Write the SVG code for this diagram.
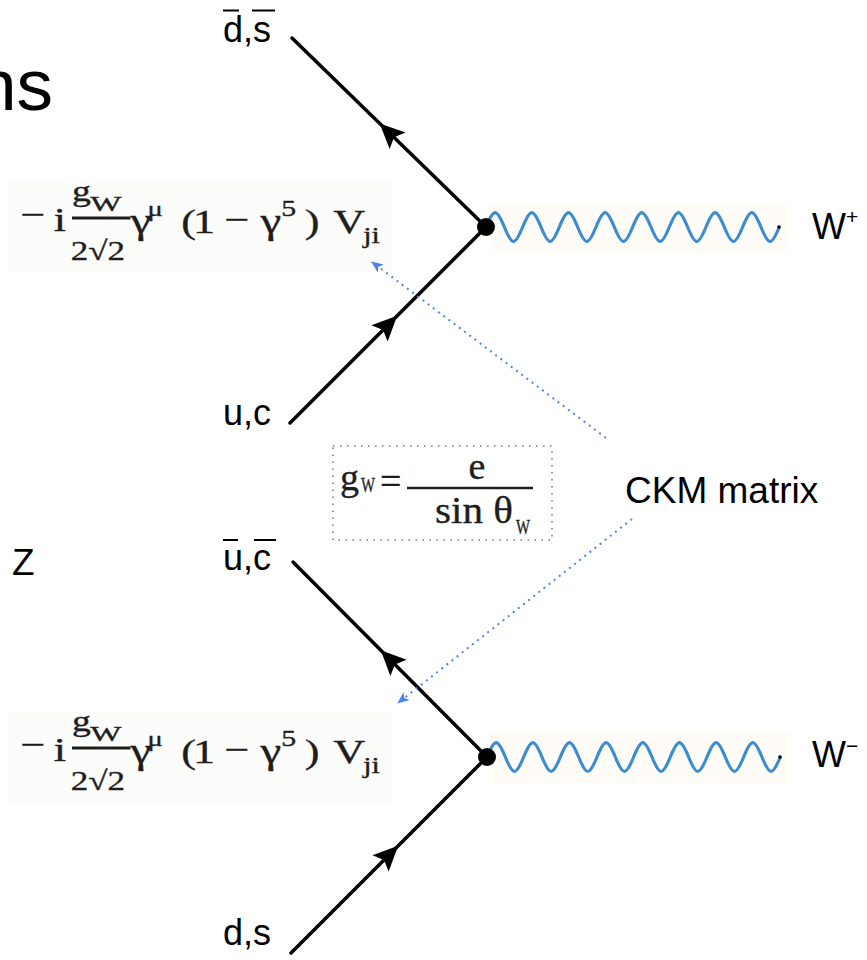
<svg xmlns="http://www.w3.org/2000/svg" width="867" height="960" viewBox="0 0 867 960">
  <style>
    .lbl { font-family: "Liberation Sans", Arial, sans-serif; fill: #000; }
    .math { font-family: "Liberation Serif", "Times New Roman", serif; fill: #1e1e1e; stroke: #1e1e1e; stroke-width: 0.35; }
    .fermion { stroke: #000; stroke-width: 3.5; fill: none; stroke-linecap: round; }
    .boson { stroke: #3b8cd0; stroke-width: 3.2; fill: none; }
    .ckm { stroke: #4a86e8; stroke-width: 2; fill: none; stroke-dasharray: 2 4.5; }
    .bar { stroke: #1e1e1e; }
    .ovl { stroke: #000; stroke-width: 2; }
  </style>
  <defs>
    <path id="farrow" d="M13,0 L-12,-11.5 L-7,0 L-12,11.5 Z" fill="#000"/>
    <marker id="ckmhead" markerUnits="userSpaceOnUse" viewBox="0 0 12 10" refX="11" refY="5" markerWidth="12" markerHeight="10" orient="auto">
      <path d="M0,0 L12,5 L0,10 L3,5 Z" fill="#4a86e8"/>
    </marker>
  </defs>
  <rect width="867" height="960" fill="#fff"/>

  <!-- faint image backgrounds -->
  <rect x="8" y="182" width="384" height="90" fill="#fcfcfb"/>
  <rect x="8" y="712" width="384" height="90" fill="#fcfcfb"/>
  <rect x="490" y="203" width="300" height="50" fill="#fffcf7"/>
  <rect x="490" y="733" width="300" height="50" fill="#fffcf7"/>

  <!-- title fragment -->
  <text class="lbl" x="-24" y="110" font-size="73">ns</text>
  <text class="lbl" x="12" y="575" font-size="37">Z</text>

  <!-- connectors -->
  <g id="connectors">
    <line class="fermion" x1="486" y1="227" x2="292" y2="38"/>
    <line class="fermion" x1="290" y1="423" x2="486" y2="227"/>
    <path class="boson" d="M486,227 c7.8,-19.3 10.5,-19.3 18.33,0 c7.8,19.3 10.5,19.3 18.33,0 c7.8,-19.3 10.5,-19.3 18.33,0 c7.8,19.3 10.5,19.3 18.33,0 c7.8,-19.3 10.5,-19.3 18.33,0 c7.8,19.3 10.5,19.3 18.33,0 c7.8,-19.3 10.5,-19.3 18.33,0 c7.8,19.3 10.5,19.3 18.33,0 c7.8,-19.3 10.5,-19.3 18.33,0 c7.8,19.3 10.5,19.3 18.33,0 c7.8,-19.3 10.5,-19.3 18.33,0 c7.8,19.3 10.5,19.3 18.33,0 c7.8,-19.3 10.5,-19.3 18.33,0 c7.8,19.3 10.5,19.3 18.33,0 c7.8,-19.3 10.5,-19.3 18.33,0 c7.8,19.3 10.5,19.3 18.33,0"/>
    <use href="#farrow" transform="translate(389,132.5) rotate(-136)"/>
    <use href="#farrow" transform="translate(388,325) rotate(-45)"/>

    <line class="fermion" x1="487" y1="757" x2="293" y2="562"/>
    <line class="fermion" x1="291" y1="953" x2="487" y2="757"/>
    <path class="boson" d="M487,757 c7.8,-19.3 10.5,-19.3 18.33,0 c7.8,19.3 10.5,19.3 18.33,0 c7.8,-19.3 10.5,-19.3 18.33,0 c7.8,19.3 10.5,19.3 18.33,0 c7.8,-19.3 10.5,-19.3 18.33,0 c7.8,19.3 10.5,19.3 18.33,0 c7.8,-19.3 10.5,-19.3 18.33,0 c7.8,19.3 10.5,19.3 18.33,0 c7.8,-19.3 10.5,-19.3 18.33,0 c7.8,19.3 10.5,19.3 18.33,0 c7.8,-19.3 10.5,-19.3 18.33,0 c7.8,19.3 10.5,19.3 18.33,0 c7.8,-19.3 10.5,-19.3 18.33,0 c7.8,19.3 10.5,19.3 18.33,0 c7.8,-19.3 10.5,-19.3 18.33,0 c7.8,19.3 10.5,19.3 18.33,0"/>
    <use href="#farrow" transform="translate(390,659.5) rotate(-135)"/>
    <use href="#farrow" transform="translate(389,855) rotate(-45)"/>

    <line class="ckm" x1="606" y1="438" x2="372" y2="262" marker-end="url(#ckmhead)"/>
    <line class="ckm" x1="632" y1="519" x2="398" y2="703" marker-end="url(#ckmhead)"/>
  </g>

  <!-- vertices -->
  <g id="vertex-top">
    <circle cx="486" cy="227" r="9" fill="#000"/>
    <circle cx="779" cy="227" r="1.8" fill="#000"/>
  </g>
  <g id="vertex-bottom">
    <circle cx="487" cy="757" r="9" fill="#000"/>
    <circle cx="780" cy="757" r="1.8" fill="#000"/>
  </g>

  <!-- particle labels -->
  <g id="label-dbar-sbar">
    <text class="lbl" x="223" y="42" font-size="36">d,s</text>
    <line class="ovl" x1="223" y1="10.5" x2="239" y2="10.5"/>
    <line class="ovl" x1="252" y1="10.5" x2="275" y2="10.5"/>
  </g>
  <g id="label-uc">
    <text class="lbl" x="223" y="425" font-size="36">u,c</text>
  </g>
  <g id="label-ubar-cbar">
    <text class="lbl" x="223" y="570" font-size="36">u,c</text>
    <line class="ovl" x1="223" y1="540" x2="238" y2="540"/>
    <line class="ovl" x1="254" y1="540" x2="276" y2="540"/>
  </g>
  <g id="label-ds">
    <text class="lbl" x="223" y="945" font-size="36">d,s</text>
  </g>
  <g id="label-wplus">
    <text class="lbl" x="812" y="239" font-size="36">W<tspan x="846" y="224" font-size="21">+</tspan></text>
  </g>
  <g id="label-wminus">
    <text class="lbl" x="812" y="767" font-size="36">W<tspan x="846" y="753" font-size="21">−</tspan></text>
  </g>
  <g id="label-ckm">
    <text class="lbl" x="625" y="503" font-size="37">CKM matrix</text>
  </g>

  <!-- vertex factor, top -->
  <g id="vertex-factor-top" transform="translate(20,0) scale(1.3,1)">
    <text class="math" font-size="34"><tspan x="0" y="226">−</tspan><tspan x="26" y="231">i</tspan><tspan x="85" y="233" font-size="36">γ</tspan><tspan x="98" y="216" font-size="22">μ</tspan><tspan x="124" y="233">(</tspan><tspan x="133">1</tspan><tspan x="157" y="231">−</tspan><tspan x="185" y="233" font-size="36">γ</tspan><tspan x="201" y="216" font-size="23">5</tspan><tspan x="219" y="233">)</tspan><tspan x="241">V</tspan><tspan x="264" y="243" font-size="23">ji</tspan></text>
    <text class="math" font-size="29"><tspan x="40" y="201">g</tspan><tspan x="54" y="211" font-size="21" textLength="24" lengthAdjust="spacingAndGlyphs">W</tspan></text>
    <line class="bar" x1="40" y1="218" x2="85" y2="218" stroke-width="3"/>
    <text class="math" x="39" y="260" font-size="27">2√2</text>
  </g>

  <!-- vertex factor, bottom -->
  <g id="vertex-factor-bottom" transform="translate(20,530) scale(1.3,1)">
    <text class="math" font-size="34"><tspan x="0" y="226">−</tspan><tspan x="26" y="231">i</tspan><tspan x="85" y="233" font-size="36">γ</tspan><tspan x="98" y="216" font-size="22">μ</tspan><tspan x="124" y="233">(</tspan><tspan x="133">1</tspan><tspan x="157" y="231">−</tspan><tspan x="185" y="233" font-size="36">γ</tspan><tspan x="201" y="216" font-size="23">5</tspan><tspan x="219" y="233">)</tspan><tspan x="241">V</tspan><tspan x="264" y="243" font-size="23">ji</tspan></text>
    <text class="math" font-size="29"><tspan x="40" y="201">g</tspan><tspan x="54" y="211" font-size="21" textLength="24" lengthAdjust="spacingAndGlyphs">W</tspan></text>
    <line class="bar" x1="40" y1="218" x2="85" y2="218" stroke-width="3"/>
    <text class="math" x="39" y="260" font-size="27">2√2</text>
  </g>

  <!-- coupling box -->
  <g id="coupling-box">
    <rect x="333" y="446" width="219" height="94" fill="none" stroke="#777" stroke-width="1.5" stroke-dasharray="1.5 5.5"/>
    <text class="math" font-size="38"><tspan x="340" y="490">g</tspan><tspan x="361" y="492" font-size="21" textLength="14" lengthAdjust="spacingAndGlyphs">W</tspan><tspan x="380" y="494">=</tspan></text>
    <line class="bar" x1="407" y1="488" x2="533" y2="488" stroke-width="2.5"/>
    <text class="math" x="477" y="479" font-size="38" text-anchor="middle">e</text>
    <text class="math" font-size="38"><tspan x="435" y="523" textLength="78" lengthAdjust="spacingAndGlyphs">sin θ</tspan><tspan x="516" y="534" font-size="21" textLength="14" lengthAdjust="spacingAndGlyphs">W</tspan></text>
  </g>
</svg>
